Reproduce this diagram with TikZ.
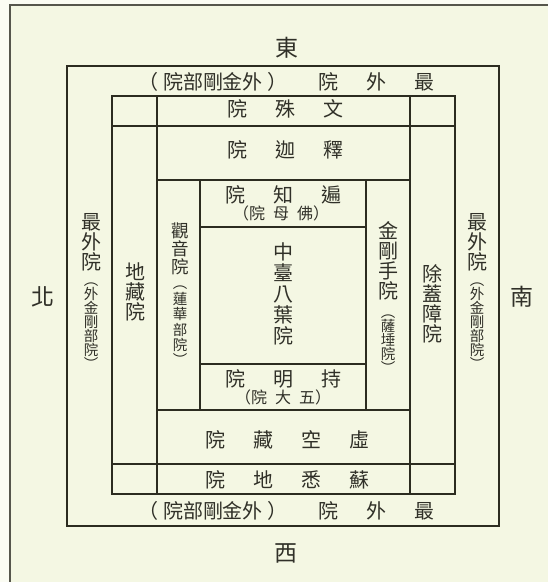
\documentclass[tikz,border=0pt]{standalone}
\usepackage{fontspec}
\setmainfont{Noto Sans CJK TC}
\usetikzlibrary{positioning}
\definecolor{papel}{RGB}{244,247,227}
\definecolor{margen}{RGB}{251,252,243}
\definecolor{tinta}{RGB}{44,44,32}
\definecolor{letra}{RGB}{48,48,40}
\newcommand{\hueco}{\hspace{28pt}}
\newcommand{\huequito}{\hspace{8pt}}
\tikzset{
  marco/.style={draw=tinta, line width=1.8pt},
  rotulo/.style={text=letra, inner sep=0pt, font=\fontsize{20}{20}\selectfont},
  punto/.style={text=letra, inner sep=0pt, font=\fontsize{23}{23}\selectfont},
  columna/.style={rotulo, align=center},
  chica/.style={text=letra, inner sep=0pt, align=center, font=\fontsize{14.5}{14}\selectfont},
  nota/.style={text=letra, inner sep=0pt, font=\fontsize{16}{16}\selectfont},
}

\begin{document}
\begin{tikzpicture}[x=1pt, y=-1pt]
        % Page
        \useasboundingbox (0,0) rectangle (548,582);
        \fill[margen] (0,0) rectangle (548,582);
        \fill[papel] (10,5) rectangle (548,582);
        \draw[tinta!80, line width=1.4pt] (10,582) -- (10,5) -- (548,5);

        % Frames
        \draw[marco] (67,66) rectangle (499,526);
        \draw[marco] (112,96) rectangle (455,494);
        \draw[marco] (157,96) -- (157,494);
        \draw[marco] (410,96) -- (410,494);
        \draw[marco] (112,126) -- (455,126);
        \draw[marco] (112,464) -- (455,464);
        \draw[marco] (157,180) -- (410,180);
        \draw[marco] (157,410) -- (410,410);
        \draw[marco] (200,180) -- (200,410);
        \draw[marco] (366,180) -- (366,410);
        \draw[marco] (200,227) -- (366,227);
        \draw[marco] (200,364) -- (366,364);

        % Directions
        \node[punto] (este) at (287,48) {東};
        \node[punto] (oeste) at (286,553) {西};
        \node[punto] (norte) at (43,297) {北};
        \node[punto] (sur) at (522,297) {南};

        % Outermost court, top and bottom
        \node[rotulo] (arribasub) at (213,82) {（\hspace{5pt}院部剛金外\hspace{5pt}）};
        \node[rotulo] (arriba) at (376,82) {院\hueco 外\hueco 最};
        \node[rotulo] (abajosub) at (213,511) {（\hspace{5pt}院部剛金外\hspace{5pt}）};
        \node[rotulo] (abajo) at (376,511) {院\hueco 外\hueco 最};

        % Rows
        \node[rotulo] (monju) at (285,109) {院\hueco 殊\hueco 文};
        \node[rotulo] (shaka) at (285,150) {院\hueco 迦\hueco 釋};
        \node[rotulo] (henchi) at (283,195) {院\hueco 知\hueco 遍};
        \node[nota] (henchisub) at (281,213) {（院\huequito 母\huequito 佛）};
        \node[rotulo] (jimyo) at (283,379) {院\hueco 明\hueco 持};
        \node[nota] (jimyosub) at (283,397) {（院\huequito 大\huequito 五）};
        \node[rotulo] (kokuzo) at (287,440) {院\hueco 藏\hueco 空\hueco 虛};
        \node[rotulo] (soshitsuji) at (287,480) {院\hueco 地\hueco 悉\hueco 蘇};

        % Columns
        \node[columna, font=\fontsize{20}{21}\selectfont] (centro) at (283,294) {中\\臺\\八\\葉\\院};
        \node[columna, font=\fontsize{17.5}{18}\selectfont] (kannon) at (180,249) {觀\\音\\院};
        \node[chica, font=\fontsize{14.5}{15.4}\selectfont] (kannonsub) at (180,326) {︵\\蓮\\華\\部\\院\\︶};
        \node[columna] (kongo) at (388,261) {金\\剛\\手\\院};
        \node[chica] (kongosub) at (388,344) {︵\\薩\\埵\\院\\︶};
        \node[columna] (jizo) at (135,292) {地\\藏\\院};
        \node[columna] (jogai) at (432,304) {除\\蓋\\障\\院};
        \node[columna] (izquierda) at (91,242) {最\\外\\院};
        \node[chica] (izquierdasub) at (91,326) {︵\\外\\金\\剛\\部\\院\\︶};
        \node[columna] (derecha) at (477,242) {最\\外\\院};
        \node[chica] (derechasub) at (477,326) {︵\\外\\金\\剛\\部\\院\\︶};
\end{tikzpicture}
\end{document}
